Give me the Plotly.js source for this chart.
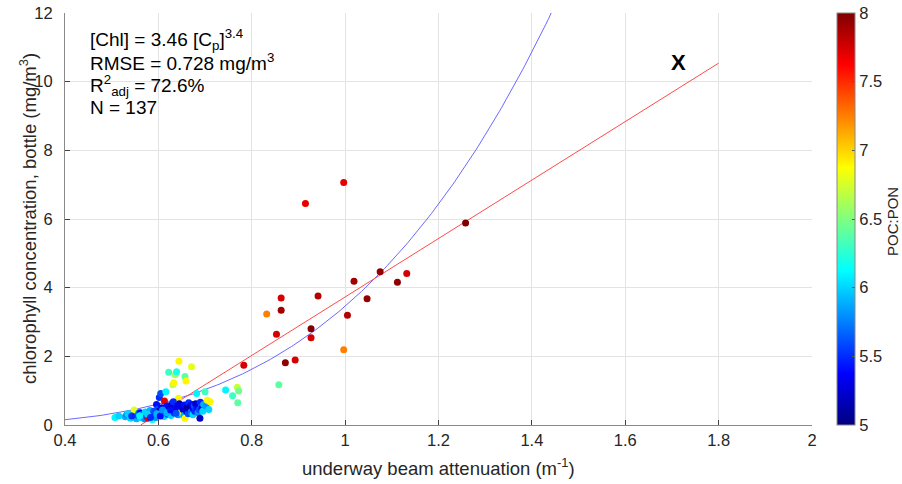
<!DOCTYPE html>
<html>
<head>
<meta charset="utf-8">
<script src="https://cdn.plot.ly/plotly-3.0.1.min.js"></script>
<style>
  html, body { margin: 0; padding: 0; background: #ffffff; }
  #chart { width: 902px; height: 484px; }
</style>
</head>
<body>
<div id="chart"></div>
<script>
// Underway beam attenuation (1/m) for each bottle sample
const beamAtt = [
  0.915, 0.997, 1.258, 1.075, 1.132, 1.112, 1.019, 1.047, 0.942, 0.863,
  0.863, 0.832, 1.005, 0.853, 0.927, 0.927, 0.997, 0.893, 0.872, 0.783,
  0.858, 0.769, 0.772, 0.759, 0.744, 0.770,
  0.507, 0.529, 0.532, 0.540, 0.545, 0.548, 0.550, 0.553, 0.556, 0.558,
  0.561, 0.562, 0.565, 0.568, 0.570, 0.572, 0.575, 0.578, 0.580, 0.582,
  0.585, 0.587, 0.589, 0.592, 0.595, 0.596, 0.598, 0.600, 0.602, 0.603,
  0.605, 0.607, 0.610, 0.612, 0.613, 0.615, 0.616, 0.618, 0.620, 0.622,
  0.623, 0.625, 0.627, 0.628, 0.630, 0.631, 0.633, 0.634, 0.636, 0.637,
  0.639, 0.640, 0.642, 0.643, 0.644, 0.645, 0.646, 0.648, 0.650, 0.651,
  0.653, 0.655, 0.656, 0.657, 0.657, 0.659, 0.660, 0.662, 0.664, 0.665,
  0.667, 0.668, 0.670, 0.671, 0.672, 0.674, 0.675, 0.677, 0.678, 0.680,
  0.682, 0.683, 0.685, 0.686, 0.688, 0.689, 0.690, 0.692, 0.693, 0.695,
  0.697, 0.700, 0.702, 0.705, 0.708, 0.711,
  0.515, 0.535, 0.543, 0.560, 0.577, 0.583, 0.590, 0.597, 0.604, 0.609,
  0.619, 0.626, 0.632, 0.638, 0.641
];

// Bottle chlorophyll concentration (mg/m^3)
const chlBottle = [
  6.45, 7.06, 5.88, 4.46, 4.41, 4.16, 4.19, 3.68, 3.76, 3.70,
  3.34, 3.23, 3.20, 2.64, 2.80, 2.54, 2.19, 1.89, 1.81, 1.74,
  1.17, 1.10, 0.99, 0.85, 1.02, 0.65,
  0.22, 0.24, 0.29, 0.20, 0.32, 0.44, 0.24, 0.18, 0.28, 0.35,
  0.36, 0.22, 0.30, 0.29, 0.18, 0.38, 0.25, 0.20, 0.33, 0.42,
  0.27, 0.15, 0.29, 0.36, 0.22, 0.60, 0.45, 0.39, 0.80, 0.30,
  0.92, 0.50, 0.34, 0.25, 0.70, 0.42, 0.97, 0.55, 0.31, 1.54,
  0.46, 0.38, 0.28, 0.60, 0.48, 1.17, 1.23, 0.35, 1.46, 0.52,
  1.55, 0.42, 0.30, 0.78, 1.86, 0.62, 0.33, 0.36, 0.39, 0.50,
  0.45, 0.28, 0.58, 1.41, 0.20, 1.28, 0.40, 0.52, 0.33, 0.65,
  0.45, 0.53, 0.38, 1.70, 0.60, 0.30, 0.48, 0.55, 0.40, 0.62,
  0.92, 0.50, 0.36, 0.58, 0.45, 0.20, 0.66, 0.52, 0.49, 0.40,
  0.60, 0.97, 0.55, 0.72, 0.45, 0.68,
  0.26, 0.33, 0.26, 0.27, 0.31, 0.22, 0.40, 0.33, 0.26, 0.44,
  0.36, 0.44, 0.68, 0.34, 0.56
];

// Particulate organic carbon to nitrogen ratio (colour variable)
const pocPon = [
  7.70, 7.70, 8.00, 7.95, 7.75, 7.95, 7.90, 7.95, 7.85, 7.75,
  7.90, 7.25, 7.85, 7.75, 8.00, 7.75, 7.25, 7.75, 7.95, 7.75,
  6.40, 6.70, 6.45, 6.30, 6.10, 6.40,
  6.1, 5.9, 5.8, 6.0, 5.7, 6.8, 6.1, 5.9, 5.6, 5.8,
  5.4, 6.0, 5.7, 5.5, 5.8, 6.0, 5.6, 7.7, 5.3, 5.9,
  5.7, 6.2, 5.5, 5.4, 5.8, 5.4, 5.6, 5.1, 5.5, 5.7,
  5.6, 5.3, 5.5, 6.0, 7.7, 5.2, 6.1, 5.4, 5.6, 6.3,
  5.2, 5.7, 6.0, 5.3, 5.1, 6.7, 6.9, 5.5, 6.6, 5.4,
  6.2, 5.3, 5.8, 6.9, 6.9, 5.2, 5.9, 6.1, 6.9, 5.5,
  5.2, 5.9, 5.4, 6.4, 6.9, 6.9, 5.3, 5.1, 5.6, 5.5,
  5.2, 5.1, 5.7, 6.8, 5.4, 6.0, 5.3, 5.6, 5.5, 5.2,
  6.1, 5.4, 5.8, 5.3, 5.6, 5.2, 5.5, 5.7, 5.3, 6.0,
  5.9, 6.3, 5.8, 6.9, 6.0, 6.9,
  6.0, 6.0, 5.5, 6.1, 6.0, 5.5, 5.6, 5.9, 5.4, 5.8,
  5.9, 5.4, 5.5, 5.6, 5.3
];

// Power-law fit [Chl] = a * Cp^b
const powerCoef = 3.46;
const powerExp = 3.4;

// Linear fit end points
const linFitX = [0.562, 1.8];
const linFitY = [0, 10.54];

// Fit statistics shown in the text box
const statLines = [
  '[Chl] = 3.46 [C<sub>p</sub>]<sup>3.4</sup>',
  'RMSE = 0.728 mg/m<sup>3</sup>',
  'R<sup>2</sup><sub>adj</sub> = 72.6%',
  'N = 137'
];

const xTicks = [0.4, 0.6, 0.8, 1, 1.2, 1.4, 1.6, 1.8, 2];
const yTicks = [0, 2, 4, 6, 8, 10, 12];
const cTicks = [5, 5.5, 6, 6.5, 7, 7.5, 8];

// Sample the power-law curve across the axis range
const curveX = [];
const curveY = [];
for (let i = 0; i <= 220; i++) {
  const x = 0.4 + i * (1.5 - 0.4) / 220;
  curveX.push(x);
  curveY.push(powerCoef * Math.pow(x, powerExp));
}

const jet = [
  [0, 'rgb(0,0,128)'],
  [0.125, 'rgb(0,0,255)'],
  [0.375, 'rgb(0,255,255)'],
  [0.625, 'rgb(255,255,0)'],
  [0.875, 'rgb(255,0,0)'],
  [1, 'rgb(128,0,0)']
];

const FONT = 'Liberation Sans, Arial, Helvetica, sans-serif';
const TXT = '#262626';

// Plot frame in pixels
const PL = 65, PR = 812, PT = 13, PB = 425;
const PW = PR - PL, PH = PB - PT;
const px = v => (v - PL) / PW;
const py = v => (PB - v) / PH;

const traces = [
  {
    x: curveX, y: curveY, type: 'scatter', mode: 'lines',
    line: { color: '#6a6aff', width: 1 },
    hoverinfo: 'skip', showlegend: false
  },
  {
    x: linFitX, y: linFitY, type: 'scatter', mode: 'lines',
    line: { color: '#ff4a4a', width: 1 },
    hoverinfo: 'skip', showlegend: false
  },
  {
    x: beamAtt, y: chlBottle, type: 'scatter', mode: 'markers',
    showlegend: false,
    marker: {
      size: 7,
      color: pocPon,
      cmin: 5, cmax: 8,
      colorscale: jet,
      line: { width: 0 },
      colorbar: {
        x: px(837), xanchor: 'left', xref: 'paper',
        y: 0.5, yanchor: 'middle', len: 1, lenmode: 'fraction',
        thickness: 18, thicknessmode: 'pixels',
        xpad: 0, ypad: 0,
        outlinecolor: '#888888', outlinewidth: 1,
        tickvals: cTicks, ticktext: cTicks.map(String),
        ticks: 'inside', ticklen: 3, tickcolor: '#555555',
        tickfont: { family: FONT, size: 16.5, color: TXT }
      }
    }
  }
];

const shapes = [
  {
    type: 'rect', layer: 'between', xref: 'paper', yref: 'paper',
    x0: px(67), x1: px(293), y0: py(120), y1: py(25),
    fillcolor: '#ffffff', line: { width: 0 }
  }
];

const statY = [40, 62, 85, 107];
const annotations = statLines.map((t, i) => ({
  text: t, xref: 'paper', yref: 'paper',
  x: px(88), xanchor: 'left',
  y: py(statY[i]), yanchor: 'middle',
  showarrow: false, font: { family: FONT, size: 19, color: '#000000' }
}));
annotations.push({
  text: '<b>X</b>', x: 1.715, y: 10.57, xref: 'x', yref: 'y',
  showarrow: false, font: { family: FONT, size: 22, color: '#000000' }
});
// Axis and colour-bar titles
annotations.push({
  text: 'underway beam attenuation (m<sup>-1</sup>)', xref: 'paper', yref: 'paper',
  x: px(438), y: py(467), xanchor: 'center', yanchor: 'middle',
  showarrow: false, font: { family: FONT, size: 18.5, color: TXT }
});
annotations.push({
  text: 'chlorophyll concentration, bottle (mg/m<sup>3</sup>)', xref: 'paper', yref: 'paper',
  x: px(28), y: py(219), xanchor: 'center', yanchor: 'middle', textangle: -90,
  showarrow: false, font: { family: FONT, size: 18.5, color: TXT }
});
annotations.push({
  text: 'POC:PON', xref: 'paper', yref: 'paper',
  x: px(892), y: py(222), xanchor: 'center', yanchor: 'middle', textangle: -90,
  showarrow: false, font: { family: FONT, size: 15, color: TXT }
});

const layout = {
  width: 902, height: 484,
  margin: { l: PL, r: 902 - PR, t: PT, b: 484 - PB, pad: 0, autoexpand: false },
  paper_bgcolor: '#ffffff', plot_bgcolor: '#ffffff',
  font: { family: FONT, color: TXT },
  xaxis: {
    range: [0.4, 2], tickvals: xTicks, ticktext: xTicks.map(String),
    showgrid: true, gridcolor: '#e3e3e3', gridwidth: 1, zeroline: false,
    showline: true, linecolor: '#8a8a8a', linewidth: 1,
    ticks: 'inside', ticklen: 5, tickcolor: '#404040',
    tickfont: { family: FONT, size: 16.5, color: TXT },
    automargin: false
  },
  yaxis: {
    range: [0, 12], tickvals: yTicks, ticktext: yTicks.map(String),
    showgrid: true, gridcolor: '#e3e3e3', gridwidth: 1, zeroline: false,
    showline: true, linecolor: '#8a8a8a', linewidth: 1,
    ticks: 'inside', ticklen: 5, tickcolor: '#404040',
    ticklabelstandoff: 8,
    tickfont: { family: FONT, size: 16.5, color: TXT },
    automargin: false
  },
  shapes: shapes,
  annotations: annotations
};

Plotly.newPlot('chart', traces, layout, { staticPlot: true, displayModeBar: false });
</script>
</body>
</html>
